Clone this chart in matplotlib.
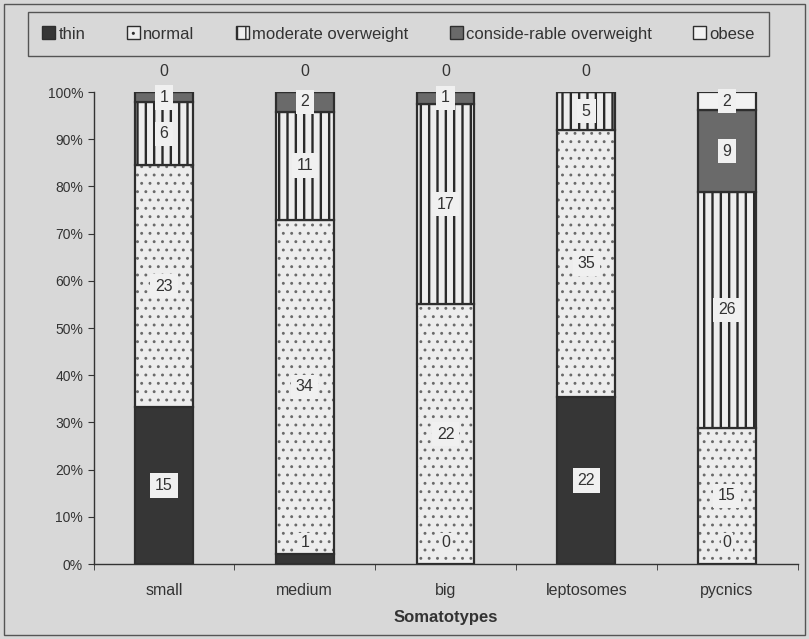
import matplotlib
matplotlib.use("Agg")
import matplotlib.pyplot as plt
from matplotlib.patches import Rectangle, Patch
import numpy as np

plt.rcParams['font.family'] = ['Liberation Sans', 'DejaVu Sans']
plt.rcParams['hatch.linewidth'] = 1.6

categories = ['small', 'medium', 'big', 'leptosomes', 'pycnics']
series_names = ['thin', 'normal', 'moderate overweight',
                'conside-rable overweight', 'obese']
thin = [15, 1, 0, 22, 0]
normal = [23, 34, 22, 35, 15]
moderate = [6, 11, 17, 5, 26]
considerable = [1, 2, 1, 0, 9]
obese = [0, 0, 0, 0, 2]
y_ticks = [0, 10, 20, 30, 40, 50, 60, 70, 80, 90, 100]

series = [thin, normal, moderate, considerable, obese]
styles = [
    dict(facecolor='#363636', hatch=None, hc='#363636', hlw=1.0),
    dict(facecolor='#ededed', hatch='..', hc='#6a6a6a', hlw=0.9),
    dict(facecolor='#ededed', hatch='||', hc='#2a2a2a', hlw=1.7),
    dict(facecolor='#6a6a6a', hatch=None, hc='#6a6a6a', hlw=1.0),
    dict(facecolor='#f2f2f2', hatch=None, hc='#f2f2f2', hlw=1.0),
]

bg = '#d8d8d8'
ink = '#2e2e2e'
fig = plt.figure(figsize=(8.09, 6.39), dpi=100)
fig.patch.set_facecolor(bg)
fig.patches.append(Rectangle((4 / 809, 4 / 639), 801 / 809, 631 / 639,
                             transform=fig.transFigure, fill=False,
                             edgecolor='#555555', linewidth=1.0))

ax = fig.add_axes([93.5 / 809, 1 - 564 / 639, 704 / 809, 472 / 639])
ax.set_facecolor(bg)

data = np.array(series, dtype=float)
totals = data.sum(axis=0)
shares = data / totals * 100
x = np.arange(len(categories))
width = 0.41


def styled_bars(target, xs, heights, w, bottom, st):
    with plt.rc_context({'hatch.linewidth': st['hlw']}):
        bars = target.bar(xs, heights, w, bottom=bottom,
                          facecolor=st['facecolor'], hatch=st['hatch'],
                          edgecolor=st['hc'], linewidth=0)
        for b in bars:
            if hasattr(b, 'set_hatch_linewidth'):
                b.set_hatch_linewidth(st['hlw'])
    return bars


bottoms = np.zeros(len(categories))
for vals, st in zip(shares, styles):
    styled_bars(ax, x, vals, width, bottoms, st)
    ax.bar(x, vals, width, bottom=bottoms, fill=False,
           edgecolor=ink, linewidth=1.6)
    bottoms += vals

# value labels
bottoms = np.zeros(len(categories))
for si, (vals, raw) in enumerate(zip(shares, data)):
    for i in range(len(categories)):
        center = bottoms[i] + vals[i] / 2
        if raw[i] == 0 and si == len(series) - 1:
            y = 104.3
            box = None
        elif si == 0 and raw[i] <= 1:
            y = 4.5
            box = dict(boxstyle='square,pad=0.12', facecolor='#ededed',
                       edgecolor='none')
        else:
            y = center
            box = dict(boxstyle='square,pad=0.3', facecolor='#f0f0f0',
                       edgecolor='none')
        if raw[i] == 0 and si not in (0, len(series) - 1):
            continue
        ax.text(x[i], y, f'{int(raw[i])}', ha='center', va='center',
                fontsize=11.5, color='#333333', bbox=box)
    bottoms += vals

ax.set_xlim(-0.5, len(categories) - 0.5)
ax.set_ylim(0, 100)
ax.set_yticks(y_ticks)
ax.set_yticklabels([f'{t}%' for t in y_ticks])
ax.set_xticks(x)
ax.set_xticklabels(categories)
ax.set_xticks(np.arange(len(categories) + 1) - 0.5, minor=True)
ax.tick_params(axis='x', which='major', length=0, pad=14, labelsize=11.5,
               colors='#333333')
ax.tick_params(axis='x', which='minor', length=4, color='#333333')
ax.tick_params(axis='y', length=4, labelsize=10, colors='#333333')
for s in ['top', 'right']:
    ax.spines[s].set_visible(False)
for s in ['left', 'bottom']:
    ax.spines[s].set_color('#333333')
    ax.spines[s].set_linewidth(1.0)
ax.set_xlabel('Somatotypes', fontsize=12, fontweight='bold', color='#333333',
              labelpad=8)

handles = [Patch(facecolor=st['facecolor'], hatch=st['hatch'],
                 edgecolor=ink, linewidth=1.0) for st in styles]
with plt.rc_context({'hatch.linewidth': 1.0}):
    leg = fig.legend(handles, series_names, loc='center',
                     bbox_to_anchor=(398.5 / 809, 1 - 34 / 639), ncol=5,
                     frameon=True, fancybox=False, fontsize=12,
                     handlelength=0.78, handleheight=0.8, handletextpad=0.18,
                     columnspacing=2.5, borderpad=0.85, borderaxespad=0,
                     labelcolor='#333333')
leg.get_frame().set_edgecolor('#333333')
leg.get_frame().set_facecolor(bg)
leg.get_frame().set_linewidth(1.0)

fig.savefig('out.png', dpi=100, facecolor=bg)
